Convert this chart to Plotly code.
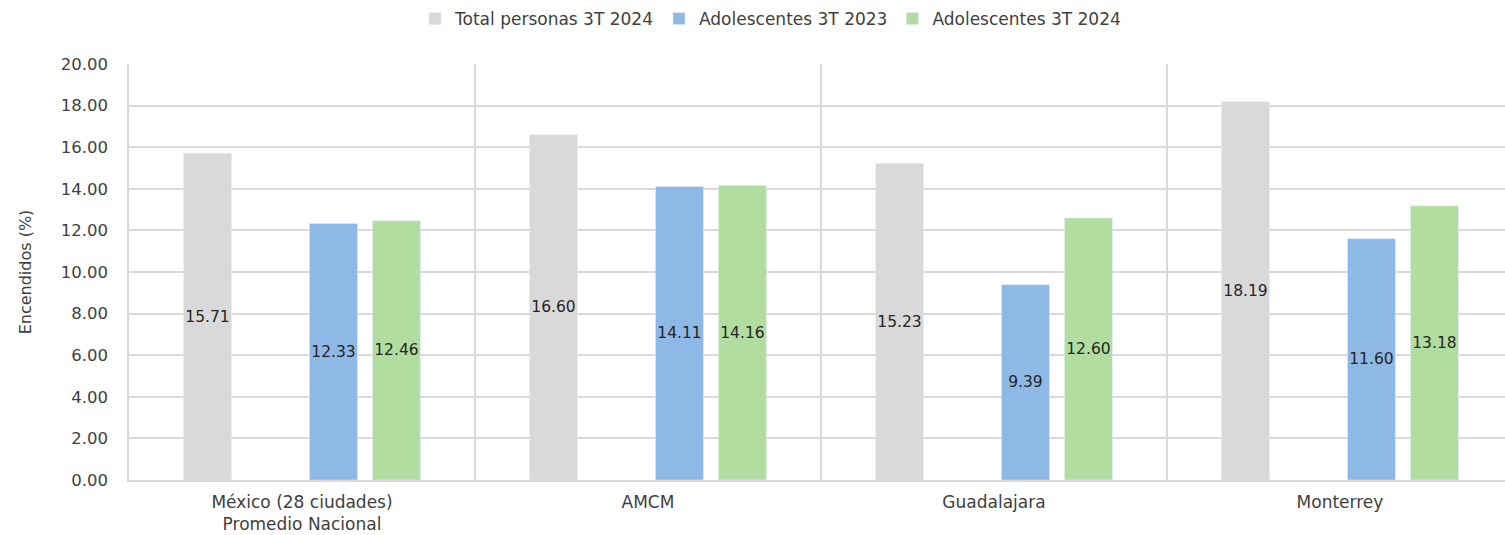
import plotly.graph_objects as go

categories = ["México (28 ciudades)<br>Promedio Nacional", "AMCM", "Guadalajara", "Monterrey"]
total_3t_2024 = [15.71, 16.60, 15.23, 18.19]
adol_3t_2023 = [12.33, 14.11, 9.39, 11.60]
adol_3t_2024 = [12.46, 14.16, 12.60, 13.18]
y_ticks = [0, 2, 4, 6, 8, 10, 12, 14, 16, 18, 20]

FONT = "DejaVu Sans"
TEXT_COLOR = "#404040"
label_font = dict(family=FONT, size=15.5, color="#262626")


def bar_trace(name, values, color):
    return go.Bar(
        name=name, x=categories, y=values, marker_color=color,
        texttemplate="%{y:.2f}", textposition="inside",
        insidetextanchor="middle", textfont=label_font, textangle=0,
        constraintext="none",
    )


fig = go.Figure()
fig.add_trace(bar_trace("Total personas 3T 2024", total_3t_2024, "#D9D9D9"))
# empty slot kept between the total and the adolescent series
fig.add_trace(go.Bar(
    name="", x=categories, y=[None] * len(categories), showlegend=False,
    hoverinfo="skip",
))
fig.add_trace(bar_trace("Adolescentes 3T 2023", adol_3t_2023, "#8EB8E5"))
fig.add_trace(bar_trace("Adolescentes 3T 2024", adol_3t_2024, "#B1DDA1"))

fig.update_layout(
    width=1505, height=535,
    margin=dict(l=129, r=0, t=64, b=55),
    paper_bgcolor="white", plot_bgcolor="white",
    barmode="group", bargap=0.272, bargroupgap=0.238,
    font=dict(family=FONT, size=16, color=TEXT_COLOR),
    legend=dict(
        orientation="h", xref="container", yref="container",
        x=0.512, xanchor="center", y=0.998, yanchor="top",
        font=dict(family=FONT, size=17, color=TEXT_COLOR),
        itemwidth=30, tracegroupgap=0,
    ),
)
fig.update_xaxes(
    type="category", range=[-0.5, 3.477],
    tickson="boundaries", showgrid=True, gridcolor="#D9D9D9", gridwidth=1.5,
    showline=True, linecolor="#D9D9D9", linewidth=1.5,
    ticks="", ticklabelstandoff=6,
    tickfont=dict(family=FONT, size=17, color=TEXT_COLOR),
)
fig.update_yaxes(
    range=[0, 20], tickvals=y_ticks, tickformat=".2f",
    showgrid=True, gridcolor="#D9D9D9", gridwidth=1.5,
    showline=True, linecolor="#D9D9D9", linewidth=1.5,
    zeroline=False, ticks="", ticklabelstandoff=16,
    tickfont=dict(family=FONT, size=16.5, color=TEXT_COLOR),
    title=dict(text="Encendidos (%)", standoff=25,
               font=dict(family=FONT, size=16, color=TEXT_COLOR)),
)

fig.write_html("out.html")
